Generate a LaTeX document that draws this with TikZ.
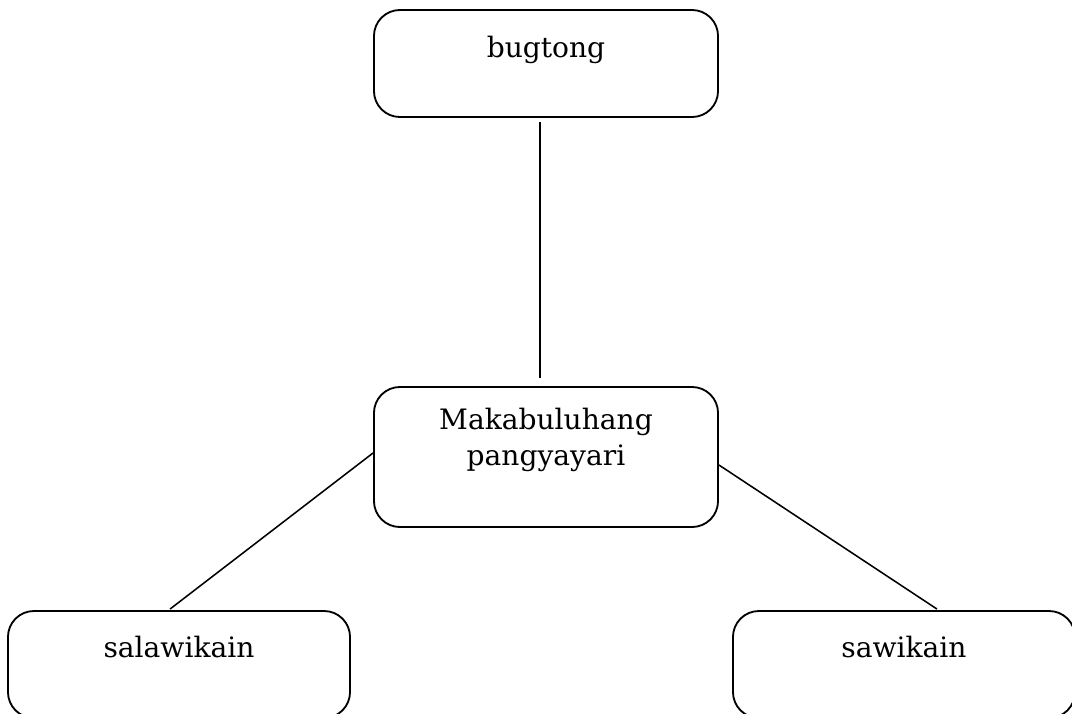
\documentclass[tikz,border=0pt]{standalone}
\usepackage{fontspec}
\setmainfont{DejaVu Serif}
\tikzset{
  kahon/.style={draw, line width=1.3pt, rounded corners=0.65cm, minimum width=8.6cm},
  pamagat/.style={font=\fontsize{20}{25}\selectfont, align=center},
  linya/.style={line width=1.1pt}
}
\begin{document}
\begin{tikzpicture}[x=0.025cm, y=-0.025cm]
  \useasboundingbox (0,0) rectangle (1072,713);
  % mga kahon
  \node[kahon, minimum height=2.675cm] (bugtong) at (546,63.5) {};
  \node[kahon, minimum height=3.5cm] (pangyayari) at (546,457) {};
  \node[kahon, minimum width=8.55cm, minimum height=2.675cm] (salawikain) at (179,664.5) {};
  \node[kahon, minimum width=8.55cm, minimum height=2.675cm] (sawikain) at (904,664.5) {};
  % mga teksto
  \node[pamagat] (tbugtong) at (546,50) {bugtong};
  \node[pamagat] (tpangyayari) at (546,440) {Makabuluhang\\pangyayari};
  \node[pamagat] (tsalawikain) at (179,647) {salawikain};
  \node[pamagat] (tsawikain) at (904,647) {sawikain};
  % mga linya
  \draw[linya, line width=1.5pt, shorten <=3pt, shorten >=6pt] ([xshift=-0.15cm]bugtong.south) -- ([xshift=-0.15cm]pangyayari.north);
  \draw[linya] ([yshift=0.1cm]pangyayari.west) -- ([xshift=-0.225cm, yshift=0.025cm]salawikain.north);
  \draw[linya] ([yshift=-0.2cm]pangyayari.east) -- ([xshift=0.825cm, yshift=0.025cm]sawikain.north);
\end{tikzpicture}
\end{document}
